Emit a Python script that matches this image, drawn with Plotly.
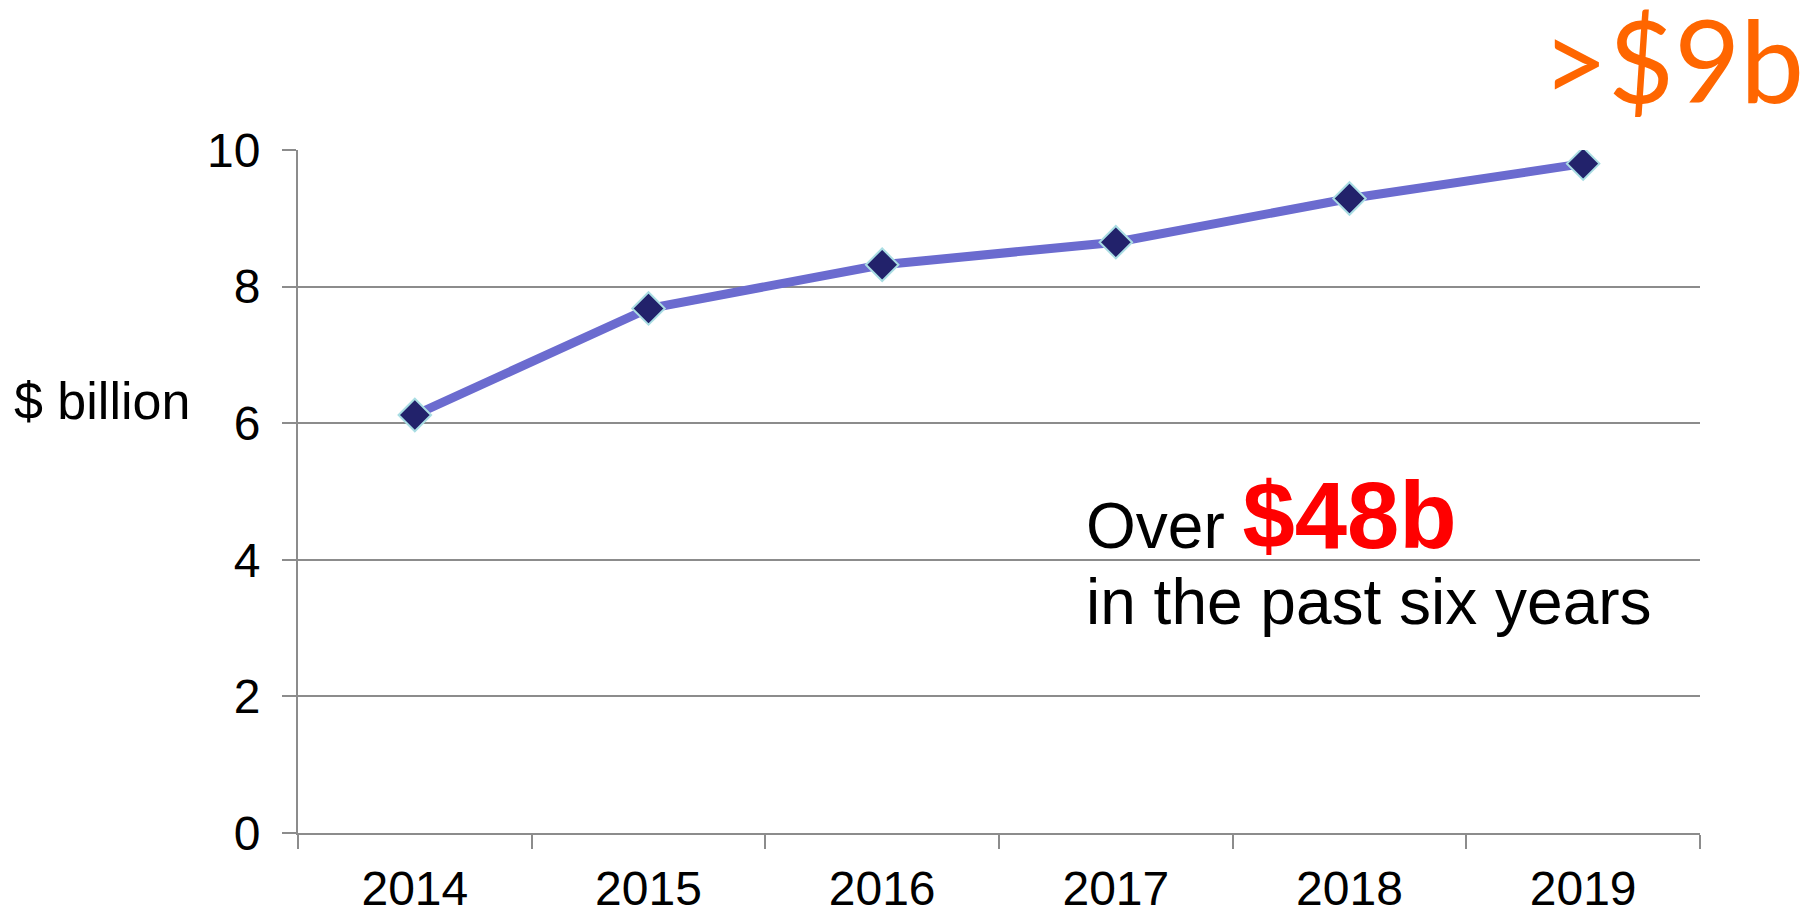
import plotly.graph_objects as go

years = ["2014", "2015", "2016", "2017", "2018", "2019"]
values = [6.12, 7.68, 8.32, 8.65, 9.29, 9.80]
y_ticks = [0, 2, 4, 6, 8, 10]

# page body has an 8px margin; figure sized so the page fits the window
OFF = 8
W, H = 1815 - OFF, 912 - OFF
L, R, T, B = 298 - OFF, 115, 150 - OFF, 79
PW, PH = W - L - R, H - T - B

def px_x(p):
    return (p - OFF - L) / PW

def px_y(p):
    return (H - B - (p - OFF)) / PH

FONT = "Liberation Sans, Arial, sans-serif"
GRID = "#8c8c8c"

fig = go.Figure()
fig.add_trace(go.Scatter(
    x=years, y=values, mode="lines+markers",
    line=dict(color="#6b6bcf", width=9),
    marker=dict(symbol="diamond", size=25, color="#22226b",
                line=dict(color="#a9dde3", width=2)),
    showlegend=False, hoverinfo="x+y",
))

fig.update_layout(
    width=W, height=H,
    margin=dict(l=L, r=R, t=T, b=B),
    plot_bgcolor="white", paper_bgcolor="white",
    font=dict(family=FONT, size=48, color="black"),
    xaxis=dict(
        type="category", range=[-0.5, 5.5], showgrid=False,
        showline=True, linecolor=GRID, linewidth=2,
        ticks="outside", tickson="boundaries", ticklen=14, tickcolor=GRID, tickwidth=2,
        tickfont=dict(family=FONT, size=48, color="black"),
        ticklabelstandoff=12, automargin=False,
    ),
    yaxis=dict(
        range=[0, 10], tickvals=y_ticks, showgrid=True, gridcolor=GRID, gridwidth=2,
        showline=True, linecolor=GRID, linewidth=2, zeroline=False,
        ticks="outside", ticklen=14, tickcolor=GRID, tickwidth=2,
        tickfont=dict(family=FONT, size=48, color="black"),
        ticklabelstandoff=12, automargin=False,
    ),
    annotations=[
        dict(text="$ billion", xref="paper", yref="paper", x=px_x(12), y=px_y(401),
             xanchor="left", yanchor="middle", showarrow=False,
             font=dict(family=FONT, size=52, color="black")),
        dict(text=">$9b", xref="paper", yref="paper", x=px_x(1806), y=px_y(58),
             xanchor="right", yanchor="middle", showarrow=False,
             font=dict(family="Lato, Open Sans, sans-serif", size=114, color="#ff6600")),
        dict(text="Over <b><span style='color:#ff0000;font-size:94px'>$48b</span></b>",
             xref="paper", yref="paper", x=px_x(1084), y=px_y(515),
             xanchor="left", yanchor="middle", showarrow=False,
             font=dict(family=FONT, size=64, color="black")),
        dict(text="in the past six years",
             xref="paper", yref="paper", x=px_x(1084), y=px_y(602),
             xanchor="left", yanchor="middle", showarrow=False,
             font=dict(family=FONT, size=64, color="black")),
    ],
)

fig.write_html("out.html")
